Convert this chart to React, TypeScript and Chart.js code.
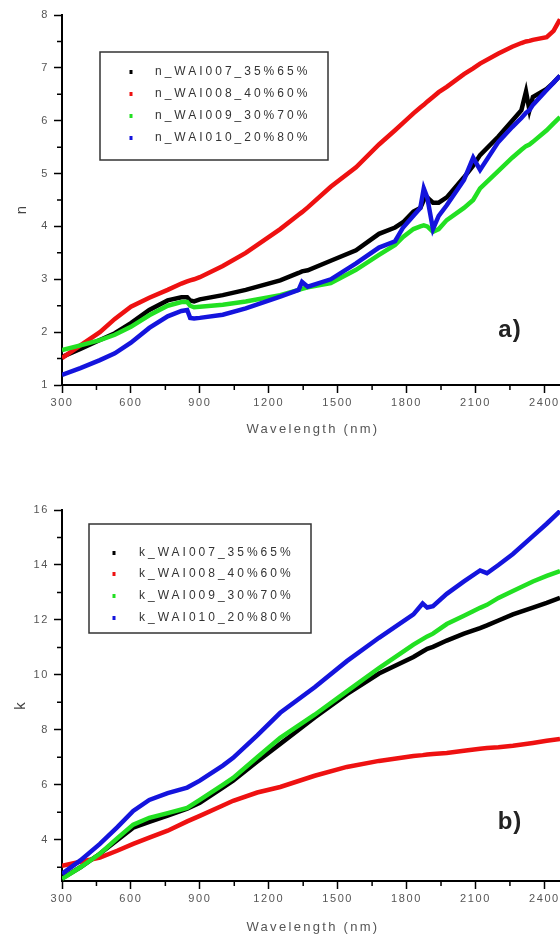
import React, { useEffect, useRef } from "react";
import { Chart, registerables } from "chart.js";

Chart.register(...registerables);

// ---------- data ----------
const X_TICKS = [300, 600, 900, 1200, 1500, 1800, 2100, 2400];
const X_MINOR = [450, 750, 1050, 1350, 1650, 1950, 2250];
const N_TICKS = [1, 2, 3, 4, 5, 6, 7, 8];
const N_MINOR = [1.5, 2.5, 3.5, 4.5, 5.5, 6.5, 7.5];
const K_TICKS = [4, 6, 8, 10, 12, 14, 16];
const K_MINOR = [3, 5, 7, 9, 11, 13, 15];

const N_LABELS = ["n_WAI007_35%65%", "n_WAI008_40%60%", "n_WAI009_30%70%", "n_WAI010_20%80%"];
const K_LABELS = ["k_WAI007_35%65%", "k_WAI008_40%60%", "k_WAI009_30%70%", "k_WAI010_20%80%"];

const WAVE_N = [300, 380, 465, 530, 600, 680, 760, 820, 845, 858, 875, 900, 1000, 1100, 1250, 1330, 1345, 1370, 1470, 1580, 1680, 1750, 1785, 1830, 1860, 1875, 1890, 1915, 1940, 1975, 2050, 2090, 2120, 2200, 2260, 2300, 2320, 2335, 2350, 2410, 2440, 2468];
const N_WAI007 = [1.53, 1.68, 1.85, 1.98, 2.17, 2.42, 2.6, 2.66, 2.66, 2.6, 2.58, 2.62, 2.7, 2.8, 2.98, 3.12, 3.15, 3.17, 3.35, 3.55, 3.86, 3.98, 4.08, 4.28, 4.35, 4.5, 4.55, 4.45, 4.45, 4.55, 4.93, 5.15, 5.35, 5.7, 6.0, 6.2, 6.55, 6.2, 6.45, 6.6, 6.72, 6.85];
const N_WAI008 = [1.51, 1.75, 2.0, 2.25, 2.48, 2.65, 2.8, 2.92, 2.96, 2.98, 3.0, 3.04, 3.25, 3.5, 3.95, 4.22, 4.27, 4.36, 4.75, 5.12, 5.55, 5.82, 5.96, 6.14, 6.25, 6.3, 6.36, 6.45, 6.54, 6.64, 6.88, 6.99, 7.08, 7.27, 7.4, 7.47, 7.5, 7.51, 7.53, 7.58, 7.7, 7.92];
const N_WAI009 = [1.66, 1.75, 1.85, 1.95, 2.1, 2.32, 2.5, 2.57, 2.57, 2.5, 2.47, 2.48, 2.52, 2.58, 2.7, 2.8, 2.82, 2.85, 2.93, 3.18, 3.46, 3.65, 3.8, 3.95, 4.0, 4.02, 4.0, 3.9, 3.95, 4.12, 4.35, 4.5, 4.72, 5.05, 5.3, 5.45, 5.52, 5.55, 5.6, 5.82, 5.95, 6.07];
const N_WAI010 = [1.19, 1.32, 1.47, 1.6, 1.8, 2.08, 2.3, 2.4, 2.42, 2.27, 2.26, 2.27, 2.33, 2.45, 2.67, 2.8, 2.95, 2.86, 3.0, 3.3, 3.6, 3.72, 3.98, 4.2, 4.35, 4.72, 4.55, 3.95, 4.2, 4.4, 4.88, 5.3, 5.07, 5.6, 5.88, 6.05, 6.15, 6.2, 6.3, 6.58, 6.72, 6.85];

const WAVE_K = [300, 380, 465, 540, 610, 680, 760, 845, 900, 1000, 1045, 1150, 1250, 1400, 1540, 1680, 1830, 1870, 1890, 1915, 1975, 2050, 2120, 2150, 2200, 2263, 2350, 2410, 2468];
const K_WAI007 = [2.6, 3.0, 3.49, 3.98, 4.44, 4.65, 4.88, 5.13, 5.35, 5.9, 6.15, 6.85, 7.49, 8.45, 9.3, 10.05, 10.65, 10.85, 10.95, 11.02, 11.25, 11.5, 11.7, 11.8, 11.98, 12.2, 12.45, 12.62, 12.8];
const K_WAI008 = [3.05, 3.2, 3.35, 3.6, 3.85, 4.08, 4.33, 4.67, 4.87, 5.25, 5.42, 5.72, 5.92, 6.33, 6.65, 6.87, 7.05, 7.08, 7.1, 7.12, 7.16, 7.24, 7.31, 7.34, 7.37, 7.42, 7.52, 7.6, 7.67];
const K_WAI009 = [2.58, 3.0, 3.49, 4.05, 4.55, 4.8, 4.97, 5.16, 5.45, 6.0, 6.25, 7.0, 7.71, 8.55, 9.4, 10.25, 11.1, 11.3, 11.4, 11.5, 11.85, 12.15, 12.44, 12.55, 12.8, 13.05, 13.4, 13.6, 13.78];
const K_WAI010 = [2.76, 3.25, 3.85, 4.45, 5.05, 5.45, 5.7, 5.9, 6.15, 6.7, 6.98, 7.8, 8.62, 9.55, 10.5, 11.35, 12.2, 12.6, 12.45, 12.5, 12.95, 13.4, 13.8, 13.7, 14.0, 14.4, 15.05, 15.5, 15.96];

// ---------- styles ----------
const COLORS = ["#000000", "#ee1111", "#22e022", "#1414dd"];
const ORDERS = [4, 3, 2, 1];
const FONT = "'Liberation Sans', Arial, sans-serif";

type PanelProps = {
  top: number;
  height: number;
  plotTop: number;
  plotBottom: number;
  wave: number[];
  series: number[][];
  labels: string[];
  yMin: number;
  yMax: number;
  yTicks: number[];
  yMinor: number[];
  yTitle: string;
  yTitlePos: [number, number];
  xTitleY: number;
  panelText: string;
  panelPos: [number, number];
  legendBox: [number, number, number, number];
  legendRows: number[];
  markerX: number;
  textX: number;
};

function Panel(p: PanelProps) {
  const ref = useRef<HTMLCanvasElement | null>(null);
  useEffect(() => {
    const canvas = ref.current;
    if (!canvas) return;
    const W = 560;
    const xMax = 2468;

    const deco = {
      id: "deco",
      beforeDraw(chart: any) {
        chart.ctx.letterSpacing = "1.6px";
      },
      afterDraw(chart: any) {
        const ctx = chart.ctx as CanvasRenderingContext2D;
        const xs = chart.scales.x;
        const ys = chart.scales.y;
        const ca = chart.chartArea;
        ctx.save();
        // minor ticks
        ctx.strokeStyle = "#000";
        ctx.lineWidth = 1.5;
        ctx.beginPath();
        X_MINOR.forEach((v) => {
          const px = xs.getPixelForValue(v);
          ctx.moveTo(px, ca.bottom);
          ctx.lineTo(px, ca.bottom + 5);
        });
        p.yMinor.forEach((v) => {
          const py = ys.getPixelForValue(v);
          ctx.moveTo(ca.left, py);
          ctx.lineTo(ca.left - 5, py);
        });
        ctx.stroke();

        // y title
        ctx.save();
        ctx.translate(p.yTitlePos[0], p.yTitlePos[1]);
        ctx.rotate(-Math.PI / 2);
        ctx.letterSpacing = "0px";
        ctx.font = `15px ${FONT}`;
        ctx.fillStyle = "#444";
        ctx.textAlign = "center";
        ctx.textBaseline = "middle";
        ctx.fillText(p.yTitle, 0, 0);
        ctx.restore();

        // x title
        ctx.letterSpacing = "2.3px";
        ctx.font = `13px ${FONT}`;
        ctx.fillStyle = "#555";
        ctx.textAlign = "center";
        ctx.textBaseline = "middle";
        ctx.fillText("Wavelength (nm)", 313, p.xTitleY);

        // panel label
        ctx.letterSpacing = "1px";
        ctx.font = `bold 24px ${FONT}`;
        ctx.fillStyle = "#222";
        ctx.fillText(p.panelText, p.panelPos[0], p.panelPos[1]);

        // legend
        const [lx, ly, lw, lh] = p.legendBox;
        ctx.letterSpacing = "0px";
        ctx.strokeStyle = "#333";
        ctx.lineWidth = 1.5;
        ctx.strokeRect(lx, ly, lw, lh);
        ctx.letterSpacing = "3px";
        ctx.font = `12px ${FONT}`;
        ctx.textAlign = "left";
        ctx.textBaseline = "middle";
        p.labels.forEach((lab, i) => {
          const ry = p.legendRows[i];
          ctx.fillStyle = COLORS[i];
          ctx.fillRect(p.markerX - 1.5, ry - 2, 3, 4);
          ctx.fillStyle = "#333";
          ctx.fillText(lab, p.textX, ry);
        });
        ctx.restore();
      },
    };

    const tickFont = { family: FONT, size: 11 };
    const chart = new Chart(canvas, {
      type: "line",
      data: {
        datasets: p.series.map((vals, i) => ({
          label: p.labels[i],
          data: p.wave.map((w, j) => ({ x: w, y: vals[j] })),
          borderColor: COLORS[i],
          backgroundColor: COLORS[i],
          borderWidth: 4.5,
          pointRadius: 0,
          tension: 0,
          fill: false,
          order: ORDERS[i],
        })),
      },
      options: {
        animation: false,
        responsive: false,
        devicePixelRatio: 1,
        layout: { padding: { top: p.plotTop, left: 0, right: 0, bottom: 0 } },
        plugins: { legend: { display: false }, tooltip: { enabled: false } },
        scales: {
          x: {
            type: "linear",
            min: 300,
            max: xMax,
            afterBuildTicks: (s: any) => {
              s.ticks = X_TICKS.map((v) => ({ value: v }));
            },
            afterFit: (s: any) => {
              s.height = p.height - p.plotBottom;
            },
            ticks: {
              callback: (v: any) => String(v),
              font: tickFont,
              color: "#555",
              padding: 3,
              maxRotation: 0,
              autoSkip: false,
            },
            grid: { drawOnChartArea: false, drawTicks: true, tickLength: 8, tickWidth: 1.5, tickColor: "#000" },
            border: { display: true, color: "#000", width: 2 },
          },
          y: {
            type: "linear",
            min: p.yMin,
            max: p.yMax,
            afterBuildTicks: (s: any) => {
              s.ticks = p.yTicks.map((v) => ({ value: v }));
            },
            afterFit: (s: any) => {
              s.width = 62;
            },
            ticks: {
              callback: (v: any) => String(v),
              font: tickFont,
              color: "#555",
              padding: 5,
              autoSkip: false,
            },
            grid: { drawOnChartArea: false, drawTicks: true, tickLength: 8, tickWidth: 1.5, tickColor: "#000" },
            border: { display: true, color: "#000", width: 2 },
          },
        },
      },
      plugins: [deco],
    });
    return () => chart.destroy();
  }, []);

  return (
    <canvas
      ref={ref}
      width={560}
      height={p.height}
      style={{ position: "absolute", left: 0, top: p.top, width: 560, height: p.height, display: "block" }}
    />
  );
}

export default function App() {
  return (
    <div style={{ position: "absolute", left: 0, top: 0, width: 560, height: 939, overflow: "hidden", background: "#fff" }}>
      <Panel
        top={0}
        height={440}
        plotTop={15}
        plotBottom={385}
        wave={WAVE_N}
        series={[N_WAI007, N_WAI008, N_WAI009, N_WAI010]}
        labels={N_LABELS}
        yMin={1}
        yMax={8}
        yTicks={N_TICKS}
        yMinor={N_MINOR}
        yTitle="n"
        yTitlePos={[22, 210]}
        xTitleY={429}
        panelText="a)"
        panelPos={[510, 330]}
        legendBox={[100, 52, 228, 108]}
        legendRows={[72, 94, 116, 138]}
        markerX={131}
        textX={155}
      />
      <Panel
        top={470}
        height={469}
        plotTop={40}
        plotBottom={411}
        wave={WAVE_K}
        series={[K_WAI007, K_WAI008, K_WAI009, K_WAI010]}
        labels={K_LABELS}
        yMin={2.5}
        yMax={16}
        yTicks={K_TICKS}
        yMinor={K_MINOR}
        yTitle="k"
        yTitlePos={[21, 236]}
        xTitleY={457}
        panelText="b)"
        panelPos={[510, 352]}
        legendBox={[89, 54, 222, 109]}
        legendRows={[83, 104, 126, 148]}
        markerX={114}
        textX={139}
      />
    </div>
  );
}
